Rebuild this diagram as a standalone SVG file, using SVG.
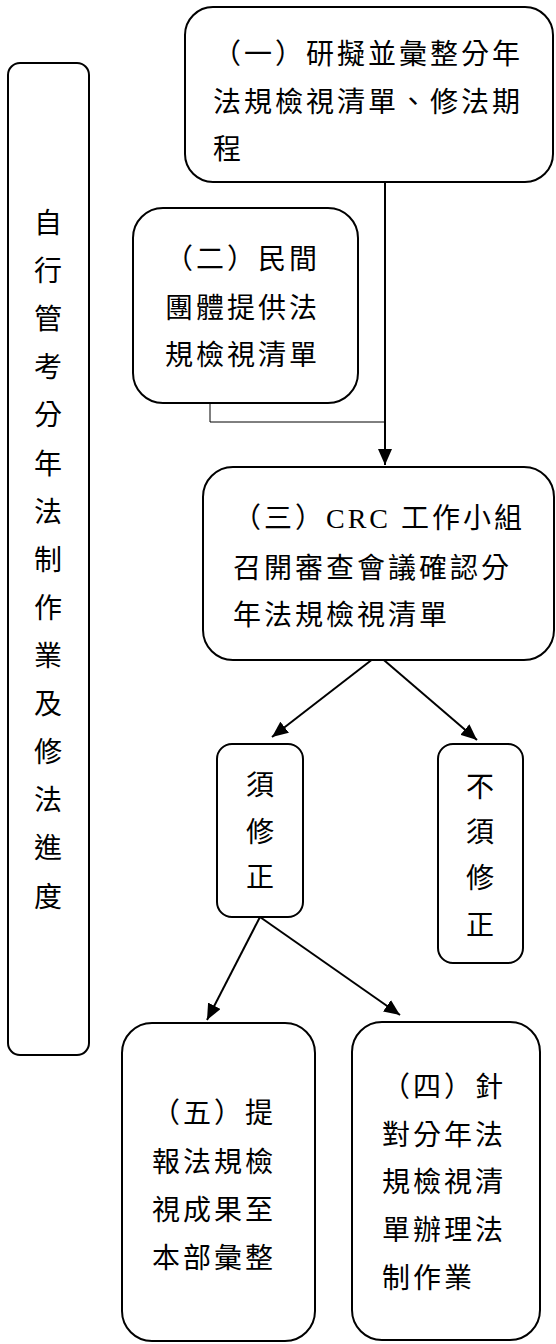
<svg xmlns="http://www.w3.org/2000/svg" width="556" height="1344" viewBox="0 0 556 1344">
<style>
.box{fill:#fff;stroke:#000;stroke-width:2}
.t{font-family:"Liberation Serif","Noto Sans CJK TC",serif;font-size:28px;fill:#000;letter-spacing:3px}
.v{font-family:"Liberation Serif","Noto Sans CJK TC",serif;font-size:28px;fill:#000;text-anchor:middle}
.ln{fill:none;stroke:#000;stroke-width:2}
.thin{fill:none;stroke:#000;stroke-width:1}
</style>
<defs>
<marker id="arr" viewBox="0 0 16 14" refX="16" refY="7" markerWidth="16" markerHeight="14" orient="auto" markerUnits="userSpaceOnUse">
<path d="M0,0 L16,7 L0,14 z" fill="#000"/>
</marker>
</defs>
<g id="connectors">
<line class="ln" x1="385" y1="182" x2="385" y2="465" marker-end="url(#arr)"/>
<polyline class="thin" points="210,403 210,422 385,422"/>
<line class="ln" x1="378" y1="655" x2="272" y2="737" marker-end="url(#arr)"/>
<line class="ln" x1="378" y1="655" x2="477" y2="740" marker-end="url(#arr)"/>
<line class="ln" x1="260" y1="917" x2="207" y2="1020" marker-end="url(#arr)"/>
<line class="ln" x1="260" y1="917" x2="400" y2="1015" marker-end="url(#arr)"/>
</g>
<g id="node-side">
<rect class="box" x="8" y="63" width="81" height="992" rx="12"/>
<text class="v" x="48" y="233">自</text>
<text class="v" x="48" y="281">行</text>
<text class="v" x="48" y="329">管</text>
<text class="v" x="48" y="377">考</text>
<text class="v" x="48" y="425">分</text>
<text class="v" x="48" y="474">年</text>
<text class="v" x="48" y="522">法</text>
<text class="v" x="48" y="570">制</text>
<text class="v" x="48" y="618">作</text>
<text class="v" x="48" y="666">業</text>
<text class="v" x="48" y="714">及</text>
<text class="v" x="48" y="762">修</text>
<text class="v" x="48" y="810">法</text>
<text class="v" x="48" y="858">進</text>
<text class="v" x="48" y="907">度</text>
</g>
<g id="node-1">
<rect class="box" x="185" y="7" width="368" height="175" rx="28"/>
<text class="t" x="213" y="64">（一）研擬並彙整分年</text>
<text class="t" x="213" y="112">法規檢視清單、修法期</text>
<text class="t" x="213" y="159">程</text>
</g>
<g id="node-2">
<rect class="box" x="133" y="208" width="225" height="195" rx="30"/>
<text class="t" x="165" y="269">（二）民間</text>
<text class="t" x="165" y="318">團體提供法</text>
<text class="t" x="165" y="365">規檢視清單</text>
</g>
<g id="node-3">
<rect class="box" x="203" y="467" width="351" height="193" rx="30"/>
<text class="t" x="233" y="528">（三）CRC 工作小組</text>
<text class="t" x="233" y="578">召開審查會議確認分</text>
<text class="t" x="233" y="625">年法規檢視清單</text>
</g>
<g id="node-must">
<rect class="box" x="217" y="744" width="86" height="173" rx="15"/>
<text class="v" x="260" y="795">須</text>
<text class="v" x="260" y="842">修</text>
<text class="v" x="260" y="887">正</text>
</g>
<g id="node-not">
<rect class="box" x="438" y="744" width="85" height="219" rx="15"/>
<text class="v" x="480" y="797">不</text>
<text class="v" x="480" y="842">須</text>
<text class="v" x="480" y="888">修</text>
<text class="v" x="480" y="935">正</text>
</g>
<g id="node-5">
<rect class="box" x="122" y="1023" width="193" height="318" rx="30"/>
<text class="t" x="152" y="1123">（五）提</text>
<text class="t" x="152" y="1172">報法規檢</text>
<text class="t" x="152" y="1220">視成果至</text>
<text class="t" x="152" y="1268">本部彙整</text>
</g>
<g id="node-4">
<rect class="box" x="352" y="1022" width="188" height="318" rx="30"/>
<text class="t" x="382" y="1097">（四）針</text>
<text class="t" x="382" y="1145">對分年法</text>
<text class="t" x="382" y="1192">規檢視清</text>
<text class="t" x="382" y="1240">單辦理法</text>
<text class="t" x="382" y="1288">制作業</text>
</g>
</svg>
